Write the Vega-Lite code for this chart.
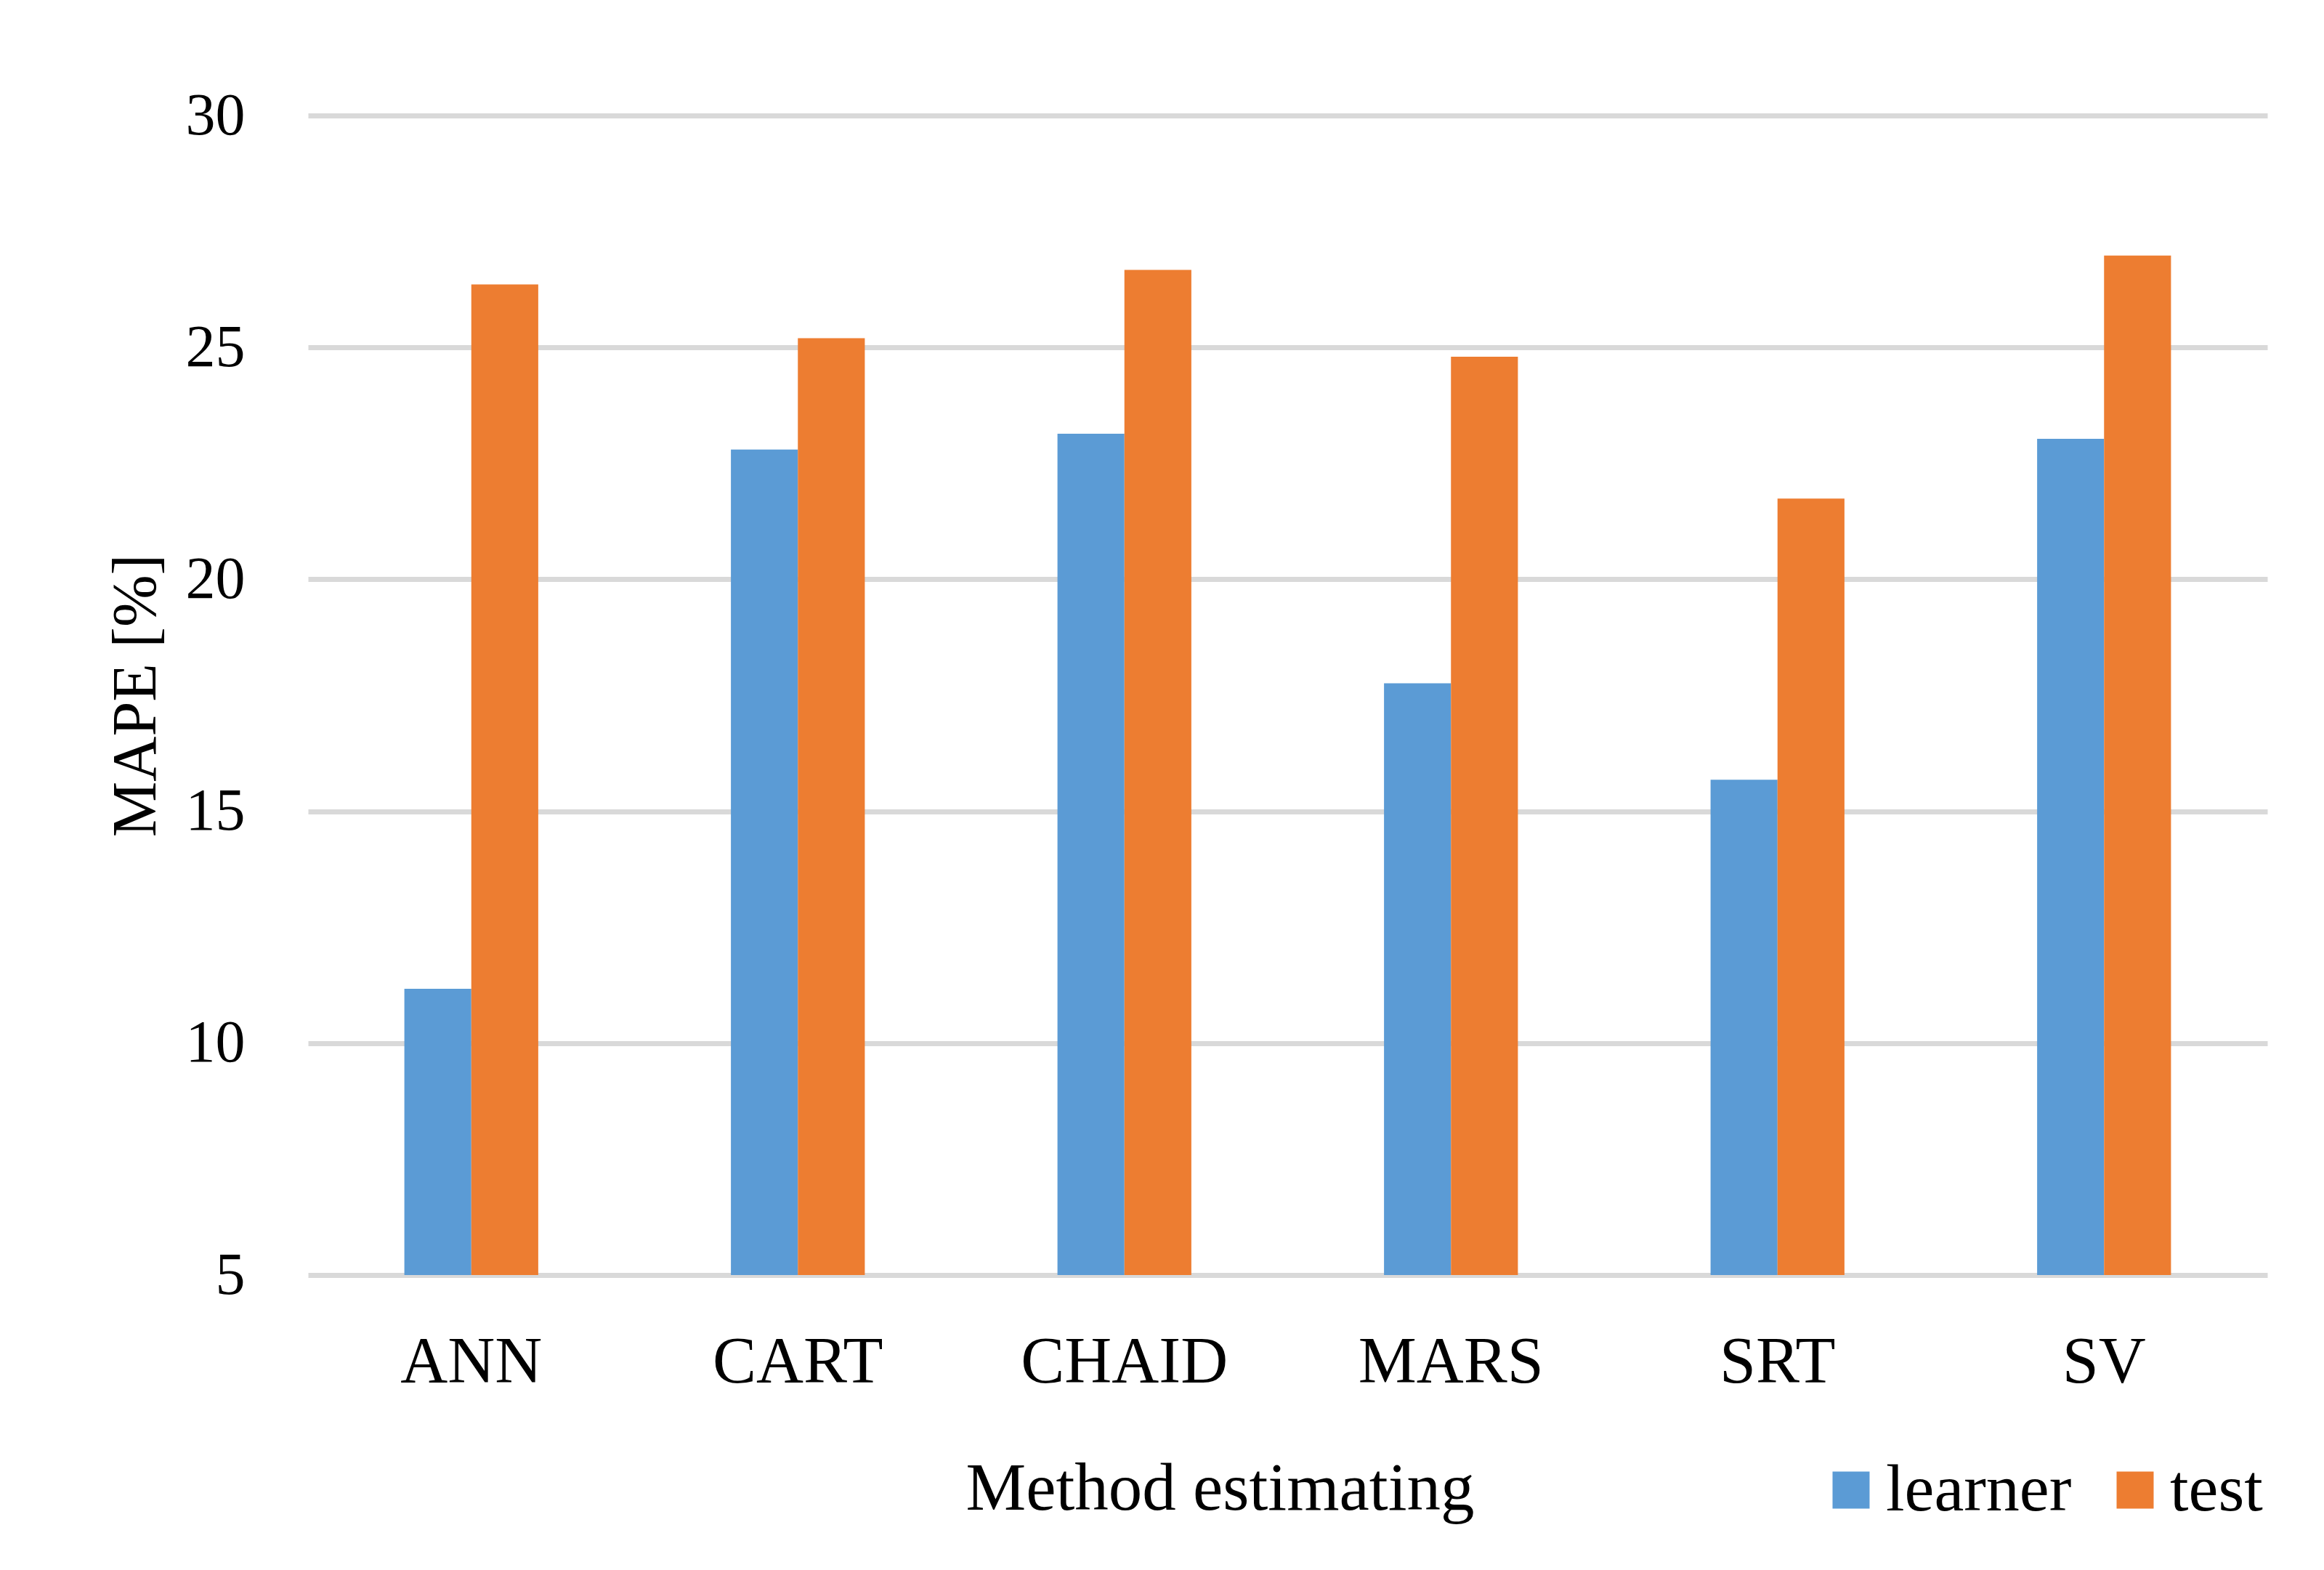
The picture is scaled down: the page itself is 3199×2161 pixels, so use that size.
{
  "$schema": "https://vega.github.io/schema/vega-lite/v6.json",
  "width": 2697,
  "height": 1596,
  "autosize": {"type": "none"},
  "padding": {"left": 424, "top": 159, "right": 78, "bottom": 406},
  "background": "white",
  "config": {"view": {"stroke": null}, "font": "Liberation Serif"},
  "data": {"values": [
    {"method": "ANN", "set": "learner", "mape": 11.17},
    {"method": "ANN", "set": "test", "mape": 26.36},
    {"method": "CART", "set": "learner", "mape": 22.8},
    {"method": "CART", "set": "test", "mape": 25.2},
    {"method": "CHAID", "set": "learner", "mape": 23.14},
    {"method": "CHAID", "set": "test", "mape": 26.67},
    {"method": "MARS", "set": "learner", "mape": 17.76},
    {"method": "MARS", "set": "test", "mape": 24.8},
    {"method": "SRT", "set": "learner", "mape": 15.68},
    {"method": "SRT", "set": "test", "mape": 21.74},
    {"method": "SV", "set": "learner", "mape": 23.03},
    {"method": "SV", "set": "test", "mape": 26.98}
  ]},
  "mark": {"type": "bar"},
  "encoding": {
    "x": {
      "field": "method", "type": "nominal", "sort": null,
      "scale": {"paddingInner": 0.59, "paddingOuter": 0.295},
      "axis": {
        "title": "Method estimating", "labelAngle": 0, "domain": false, "ticks": false,
        "labelFontSize": 90, "labelPadding": 76, "labelColor": "black", "labelLimit": 0,
        "titleFontSize": 93, "titleFontWeight": "normal", "titleColor": "black",
        "titleX": 1255, "titleY": 322, "titleBaseline": "alphabetic", "titleAlign": "center"
      }
    },
    "xOffset": {"field": "set", "type": "nominal", "scale": {"paddingInner": 0, "paddingOuter": 0}},
    "y": {
      "field": "mape", "type": "quantitative",
      "scale": {"domain": [5, 30], "nice": false, "zero": false},
      "axis": {
        "values": [5, 10, 15, 20, 25, 30], "grid": true, "gridColor": "#d9d9d9", "gridWidth": 7,
        "domain": false, "ticks": false, "labelFontSize": 82, "labelPadding": 87, "labelColor": "black",
        "title": "MAPE [%]", "titleFontSize": 86, "titleFontWeight": "normal", "titleColor": "black", "titlePadding": 24
      }
    },
    "y2": {"datum": 5},
    "color": {
      "field": "set", "type": "nominal",
      "scale": {"domain": ["learner", "test"], "range": ["#5b9bd5", "#ed7d31"]},
      "legend": {
        "orient": "none", "direction": "horizontal", "legendX": 2078, "legendY": 1846,
        "title": null, "symbolType": "square", "symbolSize": 2600, "labelFontSize": 92, "labelLimit": 0,
        "labelColor": "black", "labelOffset": 2, "columnPadding": 41, "symbolStrokeWidth": 0, "symbolOpacity": 1
      }
    }
  }
}
